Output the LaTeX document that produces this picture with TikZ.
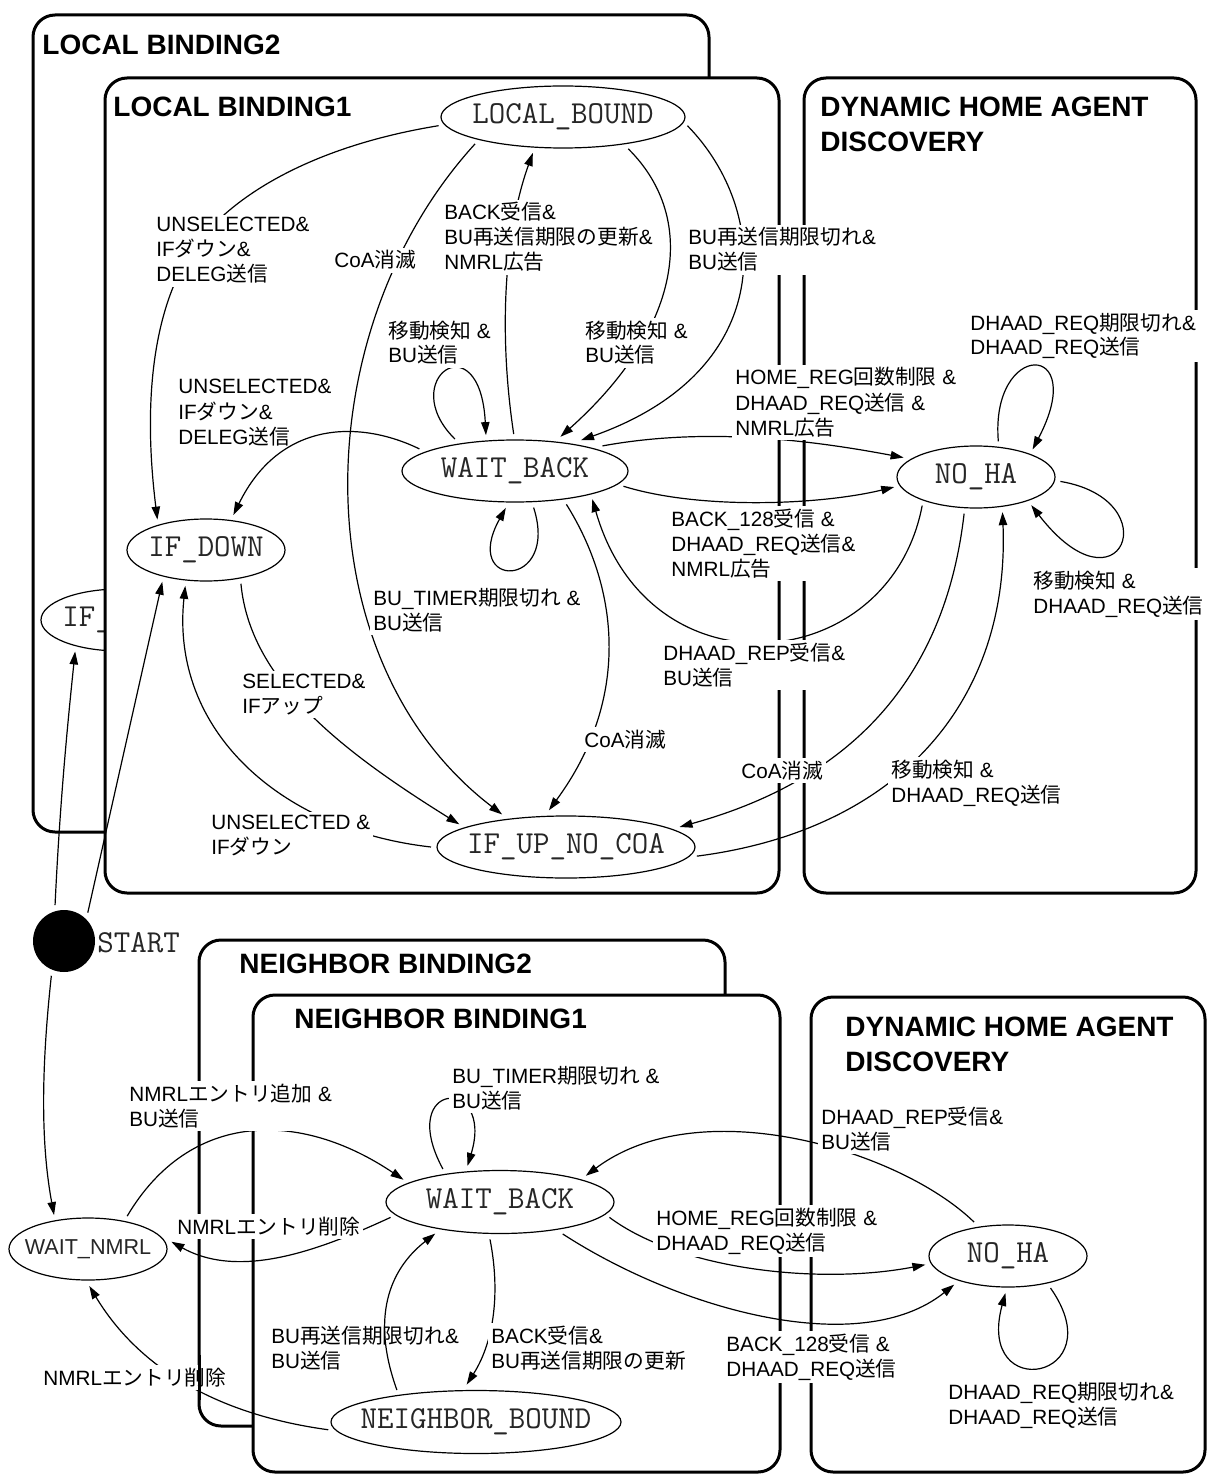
\documentclass[tikz,border=0pt]{standalone}
\usepackage{fontspec}
\setmainfont{Liberation Sans}
\newfontfamily\jpfont{Noto Sans CJK JP}
\usetikzlibrary{arrows.meta,shapes.geometric}
% Japanese runs inside mixed labels
\newcommand\J[1]{{\jpfont #1}}
% state names: zero-width box so the ellipse keeps its set size
\newcommand\stname[1]{\makebox[0pt]{\ttfamily\fontsize{16pt}{18pt}\selectfont #1}}

\tikzset{
  frame/.style={line width=1.5pt, rounded corners=11pt, fill=white},
  state/.style={ellipse, draw, line width=0.6pt, inner sep=0pt, outer sep=3pt,
                minimum height=31pt, text=black!85},
  trans/.style={line width=0.6pt, -{Triangle[length=6.5pt,width=4.2pt]}},
  % multi-line nodes: the base anchor sits on the last line
  lbl/.style={anchor=base west, align=left, fill=white, inner sep=1.5pt,
              font=\fontsize{10.35pt}{12.5pt}\selectfont},
  title/.style={anchor=base west, align=left, inner sep=0pt,
                font=\fontsize{14pt}{17.5pt}\selectfont\bfseries},
}

\begin{document}
\begin{tikzpicture}[x=0.5pt, y=-0.5pt]
\useasboundingbox (0,0) rectangle (1211,1476);

% ---------- upper half: local binding ----------
\draw[frame] (33,15) rectangle (709,832);
\node[state, minimum width=79pt] (ifg) at (120,620) {\stname{IF\_DOWN}};
\draw[frame] (105,78) rectangle (779,893);
\draw[frame] (804,78) rectangle (1196,893);

\node[title] (tlb2) at (42,55) {LOCAL BINDING2};
\node[title] (tlb1) at (113,117) {LOCAL BINDING1};
\node[title] (tdh1) at (820,152) {DYNAMIC HOME AGENT\\DISCOVERY};

\node[state, minimum width=122pt] (lb)  at (563,117) {\stname{LOCAL\_BOUND}};
\node[state, minimum width=113pt] (wb)  at (515,471) {\stname{WAIT\_BACK}};
\node[state, minimum width=79pt]  (ifd) at (206,550) {\stname{IF\_DOWN}};
\node[state, minimum width=129pt] (ifu) at (566,847) {\stname{IF\_UP\_NO\_COA}};
\node[state, minimum width=79pt]  (nh)  at (976,477) {\stname{NO\_HA}};

% ---------- lower half: neighbor binding ----------
\draw[frame] (199,940) rectangle (725,1426);
\draw[frame] (253,995) rectangle (780,1472);
\draw[frame] (811,997) rectangle (1205,1472);

\node[title] (tnb2) at (239,973) {NEIGHBOR BINDING2};
\node[title] (tnb1) at (294,1028) {NEIGHBOR BINDING1};
\node[title] (tdh2) at (845,1071) {DYNAMIC HOME AGENT\\DISCOVERY};

\node[state, minimum width=79pt] (wn) at (88,1249)
  {\makebox[0pt]{\fontsize{10.8pt}{12pt}\selectfont WAIT\_NMRL}};
\node[state, minimum width=114pt, minimum height=31.5pt] (wb2) at (500,1202) {\stname{WAIT\_BACK}};
\node[state, minimum width=145pt, minimum height=31.5pt] (nbd) at (476,1422) {\stname{NEIGHBOR\_BOUND}};
\node[state, minimum width=79pt] (nh2) at (1008,1256) {\stname{NO\_HA}};

% start point
\node[circle, fill=black, minimum size=31pt, inner sep=0pt, outer sep=3pt] (st) at (64,941) {};
\node[anchor=west, inner sep=0pt, text=black!85] (stlbl) at (97,943)
  {\ttfamily\fontsize{16pt}{18pt}\selectfont START};

% ---------- transitions, upper ----------
\draw[trans] (st.104) .. controls (60,800) and (68,720) .. (ifg.215);
\draw[trans] (st.50) -- (ifd.216);
\draw[trans] (lb.184) .. controls (320,145) and (240,190) .. (200,240)
                      .. controls (160,290) and (140,380) .. (ifd.148);
\draw[trans] (lb.197) .. controls (305,330) and (300,660) .. (ifu.153);
\draw[trans] (wb.92)  .. controls (498,330) and (505,230) .. (lb.230);
\draw[trans] (wb.152) .. controls (395,380) and (480,320) .. (wb.129);
\draw[trans] (lb.334) .. controls (700,220) and (680,330) .. (wb.37);
\draw[trans] (lb.356) .. controls (770,210) and (780,370) .. (wb.25);
\draw[trans] (wb.297) .. controls (560,590) and (460,590) .. (wb.256);
\draw[trans] (wb.327) .. controls (620,590) and (630,700) .. (ifu.115);
\draw[trans] (nh.208) .. controls (890,675) and (650,700) .. (wb.340);
\draw[trans] (wb.16)  .. controls (700,428) and (800,438) .. (nh.165);
\draw[trans] (wb.352) .. controls (700,510) and (820,505) .. (nh.187);
\draw[trans] (nh.252) .. controls (945,680) and (850,780) .. (ifu.10);
\draw[trans] (ifu.356) .. controls (900,830) and (1010,700) .. (nh.307);
\draw[trans] (nh.58)  .. controls (990,340) and (1090,340) .. (nh.26);
\draw[trans] (nh.357) .. controls (1170,500) and (1120,620) .. (nh.333);
\draw[trans] (ifd.316) .. controls (250,680) and (340,750) .. (ifu.168);
\draw[trans] (ifu.180) .. controls (280,830) and (170,730) .. (ifd.240);

% ---------- transitions, lower ----------
\draw[trans] (st.250)  .. controls (40,1080) and (42,1150) .. (wn.135);
\draw[trans] (wn.40)   .. controls (190,1110) and (300,1110) .. (wb2.167);
\draw[trans] (wb2.188) .. controls (320,1250) and (240,1280) .. (wn.5);
\draw[trans] (nbd.183) .. controls (220,1415) and (140,1370) .. (wn.272);
\draw[trans] (wb2.150) .. controls (395,1080) and (495,1075) .. (wb2.132);
\draw[trans] (nh2.135) .. controls (900,1150) and (700,1090) .. (wb2.17);
\draw[trans] (wb2.352) .. controls (680,1270) and (820,1285) .. (nh2.186);
\draw[trans] (wb2.333) .. controls (680,1310) and (860,1360) .. (nh2.208);
\draw[trans] (nh2.323) .. controls (1115,1380) and (975,1405) .. (nh2.266);
\draw[trans] (wb2.255) .. controls (500,1290) and (495,1340) .. (nbd.104);

% ---------- transition labels, upper ----------
\node[lbl] (l1)  at (153,282) {UNSELECTED\&\\IF\J{ダウン}\&\\DELEG\J{送信}};
\node[lbl] (l2)  at (175,444) {UNSELECTED\&\\IF\J{ダウン}\&\\DELEG\J{送信}};
\node[lbl] (lc1) at (331,268) {CoA\J{消滅}};
\node[lbl] (l3)  at (441,270) {BACK\J{受信}\&\\BU\J{再送信期限の更新}\&\\NMRL\J{広告}};
\node[lbl] (l6)  at (685,270) {BU\J{再送信期限切れ}\&\\BU\J{送信}};
\node[lbl] (l4)  at (385,363) {\J{移動検知} \&\\BU\J{送信}};
\node[lbl] (l5)  at (582,363) {\J{移動検知} \&\\BU\J{送信}};
\node[lbl] (l11) at (732,435) {HOME\_REG\J{回数制限} \&\\DHAAD\_REQ\J{送信} \&\\NMRL\J{広告}};
\node[lbl] (l15) at (967,355) {DHAAD\_REQ\J{期限切れ}\&\\DHAAD\_REQ\J{送信}};
\node[lbl] (l12) at (668,576) {BACK\_128\J{受信} \&\\DHAAD\_REQ\J{送信}\&\\NMRL\J{広告}};
\node[lbl] (l8)  at (370,630) {BU\_TIMER\J{期限切れ} \&\\BU\J{送信}};
\node[lbl] (l10) at (660,685) {DHAAD\_REP\J{受信}\&\\BU\J{送信}};
\node[lbl] (l16) at (1030,613) {\J{移動検知} \&\\DHAAD\_REQ\J{送信}};
\node[lbl] (l17) at (239,713) {SELECTED\&\\IF\J{アップ}};
\node[lbl] (l9)  at (581,747) {CoA\J{消滅}};
\node[lbl] (l13) at (738,778) {CoA\J{消滅}};
\node[lbl] (l14) at (888,802) {\J{移動検知} \&\\DHAAD\_REQ\J{送信}};
\node[lbl] (l18) at (208,854) {UNSELECTED \&\\IF\J{ダウン}};

% ---------- transition labels, lower ----------
\node[lbl] (l22) at (126,1126) {NMRL\J{エントリ追加} \&\\BU\J{送信}};
\node[lbl] (l25) at (449,1108) {BU\_TIMER\J{期限切れ} \&\\BU\J{送信}};
\node[lbl] (l26) at (818,1149) {DHAAD\_REP\J{受信}\&\\BU\J{送信}};
\node[lbl] (l23) at (174,1234) {NMRL\J{エントリ削除}};
\node[lbl] (l27) at (653,1250) {HOME\_REG\J{回数制限} \&\\DHAAD\_REQ\J{送信}};
\node[lbl] (l30) at (268,1368) {BU\J{再送信期限切れ}\&\\BU\J{送信}};
\node[lbl] (l31) at (488,1368) {BACK\J{受信}\&\\BU\J{再送信期限の更新}};
\node[lbl] (l28) at (723,1376) {BACK\_128\J{受信} \&\\DHAAD\_REQ\J{送信}};
\node[lbl] (l24) at (40,1385)  {NMRL\J{エントリ削除}};
\node[lbl] (l29) at (945,1424) {DHAAD\_REQ\J{期限切れ}\&\\DHAAD\_REQ\J{送信}};

% the outer neighbor frame's left side stays visible through this label
\draw[line width=1.5pt] (199,1355) -- (199,1400);

% these two run across their own labels
\draw[trans] (wb.167)  .. controls (360,420) and (280,420) .. (ifd.52);
\draw[trans] (nbd.158) .. controls (368,1310) and (395,1265) .. (wb2.206);

\end{tikzpicture}
\end{document}
